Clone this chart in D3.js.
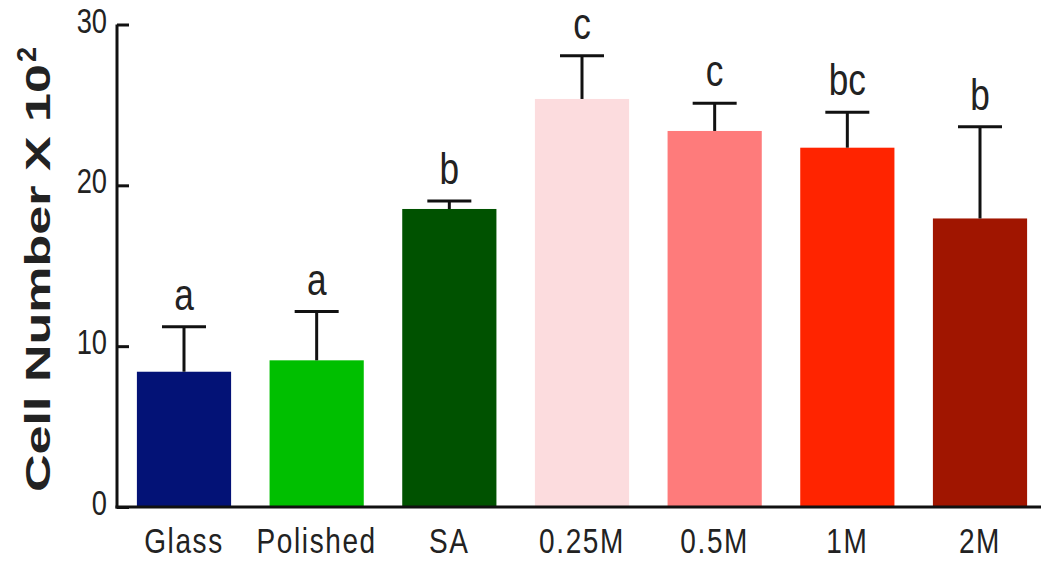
<!DOCTYPE html>
<html>
<head>
<meta charset="utf-8">
<script src="https://cdn.jsdelivr.net/npm/d3@7"></script>
<style>
  html, body { margin: 0; padding: 0; background: #fff; }
  svg { display: block; }
</style>
</head>
<body>
<svg id="chart" width="1041" height="562"></svg>
<script>
// Surface treatments and their mean cell counts (x 10^2), with the upper SD
const categories = ["Glass", "Polished", "SA", "0.25M", "0.5M", "1M", "2M"];
const means      = [8.41, 9.12, 18.53, 25.37, 23.38, 22.34, 17.94];
const upperError = [11.21, 12.15, 19.03, 28.05, 25.10, 24.55, 23.65];
const groups     = ["a", "a", "b", "c", "c", "bc", "b"];
const barColors  = ["#031276", "#00bf00", "#005200", "#fcdcde", "#fe7b7b", "#ff2400", "#a01500"];
const yTicks     = [0, 10, 20, 30];

const svg = d3.select("#chart");
const ink = "#111";
const sans = "'Liberation Sans', Arial, Helvetica, sans-serif";

const y = d3.scaleLinear().domain([0, 30]).range([507, 24.5]);
const x = d3.scaleBand().domain(categories)
  .range([117, 1047]).paddingInner(0.29).paddingOuter(0.15);
const cx = d => x(d) + x.bandwidth() / 2;

// horizontally condensed text anchored at (px, py)
function condensedText(parent, px, py, str, size, sx, opts = {}) {
  const g = parent.append("g").attr("transform", `translate(${px},${py}) scale(${sx},1)`);
  return g.append("text")
    .attr("x", 0).attr("y", 0)
    .attr("text-anchor", opts.anchor || "middle")
    .attr("font-family", sans)
    .attr("font-size", size)
    .attr("letter-spacing", opts.spacing || 0)
    .attr("fill", "#222")
    .text(str);
}

// bars
svg.append("g").selectAll("rect")
  .data(categories)
  .join("rect")
  .attr("x", d => x(d))
  .attr("width", x.bandwidth())
  .attr("y", (d, i) => y(means[i]))
  .attr("height", (d, i) => y(0) - y(means[i]))
  .attr("fill", (d, i) => barColors[i]);

// error bars (upper half only)
const err = svg.append("g").attr("stroke", ink).attr("stroke-width", 3);
categories.forEach((c, i) => {
  err.append("line").attr("x1", cx(c)).attr("x2", cx(c))
    .attr("y1", y(means[i])).attr("y2", y(upperError[i]));
  err.append("line").attr("x1", cx(c) - 22).attr("x2", cx(c) + 22)
    .attr("y1", y(upperError[i])).attr("y2", y(upperError[i]));
});

// significance letters
const letters = svg.append("g");
categories.forEach((c, i) => {
  condensedText(letters, cx(c), y(upperError[i]) - 17, groups[i], 44, 0.8);
});

// y axis
const yAxis = d3.axisLeft(y).tickValues(yTicks).tickSize(-12).tickFormat(() => "");
const gy = svg.append("g").attr("transform", "translate(117,0)").call(yAxis);
gy.select(".domain").attr("stroke", ink).attr("stroke-width", 3).attr("d", `M0,${y(30)}V${y(0) + 1.5}`);
gy.selectAll(".tick line").attr("stroke", ink).attr("stroke-width", 3);
gy.selectAll(".tick text").remove();
const yLabels = svg.append("g");
yTicks.forEach(t => {
  condensedText(yLabels, 107, y(t) + 8, d3.format("d")(t), 35, 0.78, { anchor: "end" });
});

// x axis baseline
svg.append("line").attr("x1", 115.5).attr("x2", 1041)
  .attr("y1", y(0)).attr("y2", y(0))
  .attr("stroke", ink).attr("stroke-width", 3);

// category labels
const xLabels = svg.append("g");
categories.forEach(c => {
  condensedText(xLabels, cx(c), 553, c, 35, 0.8, { spacing: 2 });
});

// y axis title
const title = svg.append("g").attr("transform", "translate(50,0) rotate(-90)");
title.append("text")
  .attr("x", -492).attr("y", 0)
  .attr("font-family", sans)
  .attr("font-weight", "bold").attr("font-size", 35).attr("fill", "#222")
  .attr("textLength", 428).attr("lengthAdjust", "spacingAndGlyphs")
  .text("Cell Number X 10");
title.append("text")
  .attr("x", -62).attr("y", -14)
  .attr("font-family", sans)
  .attr("font-weight", "bold").attr("font-size", 27).attr("fill", "#222")
  .text("2");
</script>
</body>
</html>
